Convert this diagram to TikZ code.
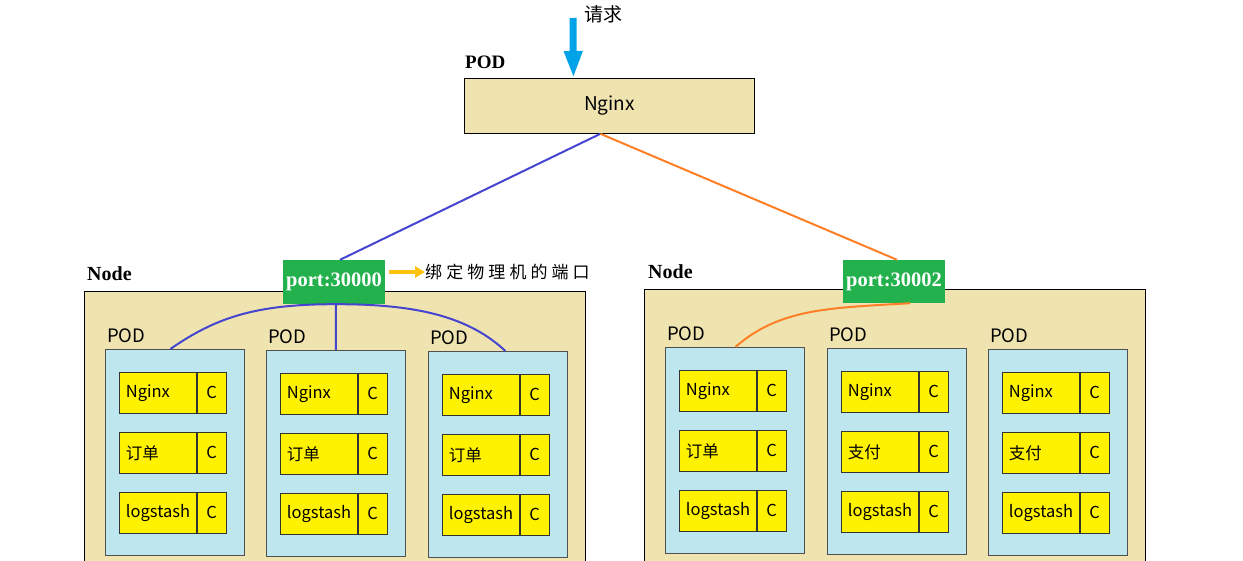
\documentclass[tikz,border=0pt]{standalone}
\usepackage{fontspec}
\setmainfont{Liberation Serif}
\newfontfamily\cjk{Noto Sans CJK SC}
\newfontfamily\cjkspaced[LetterSpace=24]{Noto Sans CJK SC}
\usetikzlibrary{arrows.meta}
\definecolor{nodefill}{HTML}{EFE4B0}
\definecolor{podfill}{HTML}{BEE6EF}
\definecolor{ctfill}{HTML}{FFF200}
\definecolor{portgreen}{HTML}{22B14C}
\definecolor{reqblue}{HTML}{00A2E8}
\definecolor{linkblue}{HTML}{4545D0}
\definecolor{linkorange}{HTML}{FF7F27}
\definecolor{annoyellow}{HTML}{FFC20E}
\definecolor{edgegray}{HTML}{505050}
\tikzset{
  nodebox/.style={draw=black, line width=0.8pt, fill=nodefill, anchor=north west, inner sep=0pt},
  podbox/.style={draw=edgegray, line width=0.8pt, fill=podfill, anchor=north west, minimum width=139pt, minimum height=206pt, inner sep=0pt},
  ctname/.style={draw=black!80, line width=0.8pt, fill=ctfill, anchor=north west, minimum width=77pt, minimum height=41pt, inner sep=0pt, font=\cjk\fontsize{16.5}{16.5}\selectfont, text width=72pt, align=left},
  ctc/.style={draw=black!80, line width=0.8pt, fill=ctfill, anchor=north west, minimum width=29pt, minimum height=41pt, inner sep=0pt, font=\cjk\fontsize{16.5}{16.5}\selectfont},
  podlabel/.style={anchor=base west, inner sep=0pt, font=\cjk\fontsize{18.5}{18.5}\selectfont},
  boldlabel/.style={anchor=base west, inner sep=0pt, font=\bfseries\fontsize{20}{20}\selectfont},
  portbox/.style={fill=portgreen, text=white, inner sep=0pt, minimum width=102pt, minimum height=44pt, font=\bfseries\fontsize{20.5}{20.5}\selectfont},
  bluelink/.style={draw=linkblue, line width=2pt},
  orangelink/.style={draw=linkorange, line width=2pt}
}
\begin{document}
\begin{tikzpicture}[x=1pt,y=-1pt]
\useasboundingbox (0,0) rectangle (1243,560);
\clip (0,0) rectangle (1243,560);
\fill[white] (0,0) rectangle (1243,560);

% top request
\node[anchor=base west, inner sep=0pt, font=\cjk\fontsize{19}{19}\selectfont] (req) at (584,21) {请求};
\coordinate (reqstart) at (573,18);
\node[boldlabel, font=\bfseries\fontsize{19}{19}\selectfont] (toppodlbl) at (465,68) {POD};
\node[nodebox, minimum width=290pt, minimum height=55pt, font=\cjk\fontsize{19}{19}\selectfont] (top) at (464,78) {Nginx};
\draw[reqblue, line width=7pt, -{Triangle[width=17pt,length=27pt]}] (reqstart) -- ([xshift=-36pt]top.north);

% nodes
\node[boldlabel] (nodelblL) at (87,280) {Node};
\node[nodebox, minimum width=501pt, minimum height=300pt] (nodeL) at (84,291) {};
\node[boldlabel] (nodelblR) at (648,278) {Node};
\node[nodebox, minimum width=501pt, minimum height=300pt] (nodeR) at (644,289) {};

% pods
\foreach \px/\py/\n/\second in {105/349/1/订单, 266/350/2/订单, 428/351/3/订单, 665/347/4/订单, 827/348/5/支付, 988/349/6/支付}{
  \node[podlabel] (podlbl\n) at (\px+2,\py-7) {POD};
  \node[podbox] (pod\n) at (\px,\py) {};
  \foreach \k/\dy/\txt in {a/23/Nginx, b/83/\second, c/143/logstash}{
    \node[ctname] (ct\n\k) at (\px+14,\py+\dy) {\hspace*{4pt}\txt};
    \node[ctc] (ctc\n\k) at (ct\n\k.north east) {C};
  }
}

% ports
\node[portbox] (pl) at (334,282) {port:30000};
\node[portbox, minimum height=43pt] (pr) at (894,281.5) {port:30002};

% annotation
\node[anchor=west, inner sep=0pt, font=\cjkspaced\fontsize{17}{17}\selectfont] (ann) at (425,272) {绑定物理机的端口};
\draw[annoyellow, line width=4pt, -{Triangle[width=11pt,length=10pt]}] (pl.east |- ann.west) ++(4pt,0) -- (ann.west);

% links from top
\draw[bluelink] ([xshift=-9pt]top.south) -- ([xshift=6pt]pl.north);
\draw[orangelink] ([xshift=-9pt]top.south) -- ([xshift=3pt]pr.north);

% links to pods
\draw[bluelink] ([xshift=2pt]pl.south) .. controls (255,304) and (215,318) .. ([xshift=-4.5pt]pod1.north);
\draw[bluelink] ([xshift=2pt]pl.south) -- ([xshift=0pt]pod2.north);
\draw[bluelink] ([xshift=2pt]pl.south) .. controls (420,304) and (470,318) .. ([xshift=7.5pt]pod3.north);
\draw[orangelink] ([xshift=16pt]pr.south) .. controls (830,308) and (780,308) .. ([xshift=0.5pt]pod4.north);
\end{tikzpicture}
\end{document}
